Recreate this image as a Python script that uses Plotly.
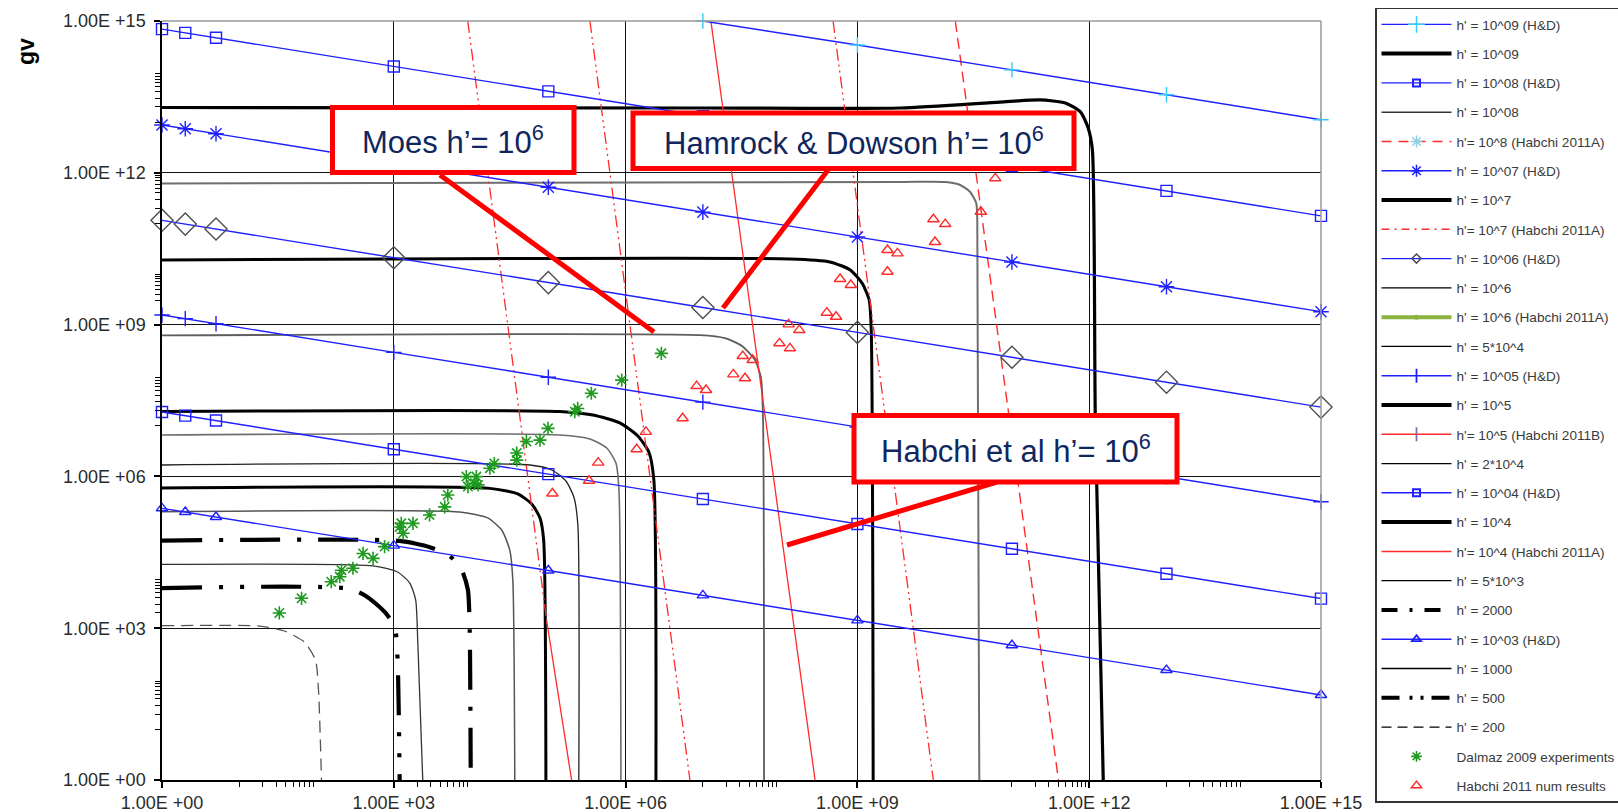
import plotly.graph_objects as go

# ---------------- axis ticks ----------------
major_vals = [1e0, 1e3, 1e6, 1e9, 1e12, 1e15]
major_text = ["1.00E +00", "1.00E +03", "1.00E +06", "1.00E +09", "1.00E +12", "1.00E +15"]
x_minor = ([n * 1e1 for n in range(1, 10)] + [n * 1e3 for n in range(2, 10)] +
           [n * 1e7 for n in range(1, 10)] + [n * 1e11 for n in range(1, 10)] +
           [n * 1e13 for n in range(1, 10)])
y_minor = ([n * 1e1 for n in range(1, 10)] + [n * 1e3 for n in range(2, 10)] +
           [n * 1e7 for n in range(1, 10)] + [n * 1e9 for n in range(3, 11)] +
           [n * 1e11 for n in range(1, 10)] + [n * 1e13 for n in range(1, 10)])

# ---------------- Hamrock & Dowson lines (gE at the markers) ----------------
hd_ge = [1, 2, 5, 1e3, 1e5, 1e7, 1e9, 1e11, 1e13, 1e15]
hd_1e9_ge = [1e7, 1e9, 1e11, 1e13, 1e15]
hd_1e9_gv = [1.0e15, 3.36e14, 1.08e14, 3.48e13, 1.12e13]
hd_1e8_gv = [6.92e14, 5.83e14, 4.66e14, 1.26e14, 4.07e13, 1.31e13, 4.23e12, 1.36e12, 4.39e11, 1.41e11]
hd_1e7_gv = [8.81e12, 7.43e12, 5.93e12, 1.61e12, 5.19e11, 1.67e11, 5.38e10, 1.73e10, 5.58e9, 1.80e9]
hd_1e6_gv = [1.15e11, 9.68e10, 7.73e10, 2.10e10, 6.76e9, 2.18e9, 7.01e8, 2.26e8, 7.28e7, 2.34e7]
hd_1e5_gv = [1.55e9, 1.31e9, 1.04e9, 2.83e8, 9.12e7, 2.94e7, 9.46e6, 3.05e6, 9.82e5, 3.16e5]
hd_1e4_gv = [1.88e7, 1.59e7, 1.27e7, 3.44e6, 1.11e6, 3.57e5, 1.15e5, 3.71e4, 1.19e4, 3.85e3]
hd_1e3_gv = [2.34e5, 1.98e5, 1.58e5, 4.29e4, 1.38e4, 4.45e3, 1.43e3, 461, 149, 47.9]

# ---------------- Moes contours ----------------
moes_1e9_ge = [1, 9.2e6, 3.6e9, 7.0e10, 2.3e11, 4.9e11, 7.7e11, 9.7e11, 1.10e12, 1.20e12, 1.52e12]
moes_1e9_gv = [1.95e13, 1.91e13, 1.91e13, 2.5e13, 2.75e13, 2.4e13, 1.6e13, 7.7e12, 2.8e12, 1.3e7, 1]
moes_1e8_ge = [1, 3.6e9, 1.37e10, 2.14e10, 2.88e10, 3.45e10, 3.56e10, 3.78e10]
moes_1e8_gv = [6.15e11, 6.58e11, 6.58e11, 5.74e11, 4.18e11, 2.53e11, 1.17e11, 1]
moes_1e7_ge = [1, 1.34e8, 4.4e8, 8.1e8, 1.15e9, 1.42e9, 1.51e9, 1.60e9]
moes_1e7_gv = [1.89e10, 1.98e10, 1.73e10, 1.20e10, 6.6e9, 3.06e9, 7.8e8, 1]
moes_1e6_ge = [1, 9.2e6, 1.93e7, 3.21e7, 4.73e7, 5.66e7, 6.01e7, 6.19e7]
moes_1e6_gv = [6.1e8, 6.2e8, 5.4e8, 3.78e8, 2.0e8, 8.8e7, 1.30e7, 1]
moes_1e5_ge = [1, 1.41e5, 3.77e5, 8.4e5, 1.44e6, 2.0e6, 2.32e6, 2.47e6]
moes_1e5_gv = [1.92e7, 1.92e7, 1.63e7, 1.14e7, 6.3e6, 3.03e6, 8.5e5, 1]
moes_5e4_ge = [1, 1.41e5, 3.45e5, 5.7e5, 7.5e5, 8.2e5, 8.7e5]
moes_5e4_gv = [6.6e6, 6.6e6, 5.5e6, 3.64e6, 1.84e6, 5.4e5, 1]
moes_2e4_ge = [1, 5.75e4, 1.11e5, 1.69e5, 2.14e5, 2.41e5, 2.48e5]
moes_2e4_gv = [1.68e6, 1.68e6, 1.34e6, 8.1e5, 3.92e5, 1.10e5, 1]
moes_1e4_ge = [1, 1.75e4, 4.03e4, 6.1e4, 7.8e4, 8.7e4, 9.3e4]
moes_1e4_gv = [5.9e5, 5.8e5, 4.5e5, 2.85e5, 1.51e5, 5.5e4, 1]
moes_5e3_ge = [1, 7.1e3, 1.64e4, 2.49e4, 3.17e4, 3.47e4, 3.68e4]
moes_5e3_gv = [2.0e5, 1.98e5, 1.51e5, 8.7e4, 3.5e4, 9.0e3, 1]
moes_2000_ge = [1, 1.19e3, 2.92e3, 5.3e3, 7.6e3, 9.1e3, 9.6e3, 9.9e3]
moes_2000_gv = [5.4e4, 5.3e4, 4.0e4, 2.67e4, 1.41e4, 5.7e3, 920, 1]
moes_1000_ge = [1, 566, 1.12e3, 1.61e3, 1.92e3, 2.04e3, 2.37e3]
moes_1000_gv = [1.82e4, 1.69e4, 1.29e4, 7.8e3, 3.6e3, 585, 1]
moes_500_ge = [1, 269, 459, 762, 1.03e3, 1.12e3, 1.19e3]
moes_500_gv = [6.2e3, 6.0e3, 4.1e3, 2.1e3, 1.06e3, 235, 1]
moes_200_ge = [1, 18.3, 38.6, 70, 97, 106, 116]
moes_200_gv = [1.12e3, 1.10e3, 880, 530, 235, 60, 1]

# ---------------- Habchi contours ----------------
hab_dashdot_ge = [9.06e3, 9.5e4, None, 3.45e5, 6.8e6, None, 4.84e8, 9.6e9]
hab_dashdot_gv = [1e15, 1.45e3, None, 1e15, 1, None, 1e15, 1]
hab_dash_ge = [1.85e10, 4.0e11]
hab_dash_gv = [1e15, 1]
hab_solid_a_ge = [9.5e4, 2.0e5]
hab_solid_a_gv = [1.45e3, 1]
hab_solid_b_ge = [1.27e7, 2.83e8]
hab_solid_b_gv = [1e15, 1]

# ---------------- point data ----------------
dalmaz_ge = [33, 64, 155, 210, 200, 296, 400, 540, 760, 1250, 1320, 1770, 2900, 4560, 5000,
             9100, 8700, 1.23e4, 1.17e4, 1.75e4, 2.0e4, 3.9e4, 3.9e4, 5.2e4, 7.8e4, 9.9e4,
             2.2e5, 2.4e5, 3.6e5, 8.9e5, 2.9e6, 1190, 1.12e4]
dalmaz_gv = [2.0e3, 3.9e3, 8.3e3, 1.4e4, 1.04e4, 1.53e4, 3.0e4, 2.4e4, 4.1e4, 1.18e5, 7.5e4,
             1.18e5, 1.73e5, 2.5e5, 4.3e5, 6.3e5, 9.9e5, 6.8e5, 9.9e5, 1.45e6, 1.8e6, 2.9e6,
             2.1e6, 4.9e6, 5.2e6, 8.9e6, 1.9e7, 2.2e7, 4.4e7, 8.0e7, 2.7e8, 1.0e5, 7.3e5]
habchi_ge = [6.08e10, 9.64e9, 1.37e10, 1.01e10, 3.96e10, 2.45e9, 3.30e9, 2.45e9, 5.97e8, 8.22e8,
             4.02e8, 5.30e8, 1.29e8, 1.77e8, 9.8e7, 1.34e8, 3.28e7, 4.42e7, 2.48e7, 3.51e7,
             8.3e6, 1.10e7, 5.47e6, 1.83e6, 1.39e6, 4.42e5, 3.37e5, 1.13e5]
habchi_gv = [7.78e11, 1.21e11, 9.7e10, 4.3e10, 1.70e11, 2.98e10, 2.56e10, 1.11e10, 7.96e9, 6.07e9,
             1.72e9, 1.43e9, 1.01e9, 7.8e8, 4.27e8, 3.40e8, 2.39e8, 2.00e8, 1.04e8, 8.7e7,
             6.1e7, 5.1e7, 1.41e7, 7.6e6, 3.44e6, 1.87e6, 8.2e5, 4.6e5]

BLUE = "#1f1fff"
RED = "#ff2a2a"
GREEN = "#1e9a1e"
DGRAY = "#4d4d4d"
FONT = "Liberation Sans, Arial, sans-serif"

fig = go.Figure()


def curve(x, y, color, width, dash="solid", shape="spline"):
    fig.add_trace(go.Scatter(x=x, y=y, mode="lines", showlegend=False, hoverinfo="skip",
                             line=dict(color=color, width=width, dash=dash, shape=shape,
                                       smoothing=0.6 if shape == "spline" else None)))


# Moes contours
curve(moes_1e9_ge, moes_1e9_gv, "black", 3.2)
curve(moes_1e8_ge, moes_1e8_gv, "#6e6e6e", 2.0)
curve(moes_1e7_ge, moes_1e7_gv, "black", 3.0)
curve(moes_1e6_ge, moes_1e6_gv, "#5e5e5e", 1.8)
curve(moes_1e5_ge, moes_1e5_gv, "black", 3.0)
curve(moes_5e4_ge, moes_5e4_gv, "#6e6e6e", 1.6)
curve(moes_2e4_ge, moes_2e4_gv, "#222222", 1.3)
curve(moes_1e4_ge, moes_1e4_gv, "black", 3.0)
curve(moes_5e3_ge, moes_5e3_gv, "#555555", 1.5)
curve(moes_2000_ge, moes_2000_gv, "black", 4.2, dash="40px,17px,4px,17px")
curve(moes_1000_ge, moes_1000_gv, "#333333", 1.3)
curve(moes_500_ge, moes_500_gv, "black", 4.2, dash="40px,17px,4px,17px,4px,17px")
curve(moes_200_ge, moes_200_gv, "#555555", 1.3, dash="12px,7px")

# Habchi contours
curve(hab_dashdot_ge, hab_dashdot_gv, RED, 1.3, dash="12px,4px,2px,4px,2px,4px", shape="linear")
curve(hab_dash_ge, hab_dash_gv, RED, 1.4, dash="11px,6px", shape="linear")
curve(hab_solid_a_ge, hab_solid_a_gv, RED, 1.3, shape="linear")
curve(hab_solid_b_ge, hab_solid_b_gv, RED, 1.3, shape="linear")


def hd(x, y, symbol, size, mcolor):
    fig.add_trace(go.Scatter(x=x, y=y, mode="lines+markers", showlegend=False, hoverinfo="skip",
                             cliponaxis=False,
                             line=dict(color=BLUE, width=1.4),
                             marker=dict(symbol=symbol, size=size, color=mcolor,
                                         line=dict(color=mcolor, width=1.4))))


hd(hd_1e9_ge, hd_1e9_gv, "cross-thin-open", 11, "#33ccff")
hd(hd_ge, hd_1e8_gv, "square-open", 11, BLUE)
hd(hd_ge, hd_1e7_gv, "asterisk-open", 13, BLUE)
hd(hd_ge, hd_1e6_gv, "diamond-open", 17, DGRAY)
hd(hd_ge, hd_1e5_gv, "cross-thin-open", 11, BLUE)
hd(hd_ge, hd_1e4_gv, "square-open", 11, BLUE)
hd(hd_ge, hd_1e3_gv, "triangle-up-open", 10, BLUE)

fig.add_trace(go.Scatter(x=dalmaz_ge, y=dalmaz_gv, mode="markers", showlegend=False, hoverinfo="skip",
                         marker=dict(symbol="asterisk-open", size=11, color=GREEN,
                                     line=dict(color=GREEN, width=1.6))))
fig.add_trace(go.Scatter(x=habchi_ge, y=habchi_gv, mode="markers", showlegend=False, hoverinfo="skip",
                         marker=dict(symbol="triangle-up-open", size=10, color=RED,
                                     line=dict(color=RED, width=1.4))))

# ---------------- legend entries ----------------
legend_items = [
    ("h' = 10^09 (H&D)", dict(color=BLUE, width=1.4), dict(symbol="cross-thin-open", size=12, color="#33ccff", line=dict(color="#33ccff", width=1.5))),
    ("h' = 10^09", dict(color="black", width=4), None),
    ("h' = 10^08 (H&D)", dict(color=BLUE, width=1.4), dict(symbol="square-open", size=7, color=BLUE, line=dict(color=BLUE, width=2))),
    ("h' = 10^08", dict(color="#333333", width=1.6), None),
    ("h'= 10^8 (Habchi 2011A)", dict(color=RED, width=1.5, dash="10px,7px"), dict(symbol="asterisk-open", size=10, color="#8fd0e0", line=dict(color="#8fd0e0", width=1.5))),
    ("h' = 10^07 (H&D)", dict(color=BLUE, width=1.4), dict(symbol="asterisk-open", size=10, color=BLUE, line=dict(color=BLUE, width=1.5))),
    ("h' = 10^7", dict(color="black", width=4), None),
    ("h'= 10^7 (Habchi 2011A)", dict(color=RED, width=1.4, dash="8px,5px,2px,5px"), None),
    ("h' = 10^06 (H&D)", dict(color=BLUE, width=1.4), dict(symbol="diamond-open", size=7, color=DGRAY, line=dict(color=DGRAY, width=1.5))),
    ("h' = 10^6", dict(color="black", width=1.3), None),
    ("h' = 10^6 (Habchi 2011A)", dict(color="#8db33f", width=4), dict(symbol="circle", size=5, color="#8db33f")),
    ("h' = 5*10^4", dict(color="black", width=1.3), None),
    ("h' = 10^05 (H&D)", dict(color=BLUE, width=1.4), dict(symbol="line-ns-open", size=10, color=BLUE, line=dict(color=BLUE, width=1.8))),
    ("h' = 10^5", dict(color="black", width=4), None),
    ("h'= 10^5 (Habchi 2011B)", dict(color=RED, width=1.5), dict(symbol="line-ns-open", size=10, color="#8a6aa8", line=dict(color="#8a6aa8", width=1.8))),
    ("h' = 2*10^4", dict(color="black", width=1.3), None),
    ("h' = 10^04 (H&D)", dict(color=BLUE, width=1.4), dict(symbol="square-open", size=7, color=BLUE, line=dict(color=BLUE, width=2))),
    ("h' = 10^4", dict(color="black", width=4), None),
    ("h'= 10^4 (Habchi 2011A)", dict(color=RED, width=1.5), None),
    ("h' = 5*10^3", dict(color="black", width=1.3), None),
    ("h' = 2000", dict(color="black", width=4, dash="16px,12px,3px,12px"), None),
    ("h' = 10^03 (H&D)", dict(color=BLUE, width=1.4), dict(symbol="triangle-up-open", size=8, color=BLUE, line=dict(color=BLUE, width=1.8))),
    ("h' = 1000", dict(color="black", width=1.3), None),
    ("h' = 500", dict(color="black", width=4, dash="18px,10px,3px,8px,3px,8px"), None),
    ("h' = 200", dict(color="black", width=1.3, dash="10px,6px"), None),
    ("Dalmaz 2009 experiments", None, dict(symbol="asterisk-open", size=9, color=GREEN, line=dict(color=GREEN, width=1.6))),
    ("Habchi 2011 num results", None, dict(symbol="triangle-up-open", size=9, color=RED, line=dict(color=RED, width=1.5))),
]
for i, (name, line, marker) in enumerate(legend_items):
    if line is None:
        mode = "markers"
    elif marker is None:
        mode = "lines"
    else:
        mode = "lines+markers"
    kw = dict(x=[None], y=[None], mode=mode, name=name, legendgroup="g%d" % i,
              legendrank=i + 1, hoverinfo="skip")
    if line is not None:
        kw["line"] = line
    if marker is not None:
        kw["marker"] = marker
    fig.add_trace(go.Scatter(**kw))

# ---------------- layout ----------------
L, R, T, B = 162, 1321, 21, 780


def px(x):
    return (x - L) / (R - L)


def py(y):
    return (B - y) / (B - T)


axis_common = dict(
    type="log", tickvals=major_vals, ticktext=major_text, ticks="outside", ticklen=6,
    tickwidth=1.5, tickcolor="black", showline=True, linecolor="black", linewidth=1.5,
    showgrid=True, gridcolor="#111111", gridwidth=1.4, zeroline=False,
    tickfont=dict(family=FONT, size=18, color="#2b2b2b"),
)
fig.update_xaxes(range=[0, 15], **axis_common, ticklabelstandoff=0,
                 minor=dict(tickmode="array", tickvals=x_minor, ticks="outside", ticklen=5,
                            tickwidth=1, tickcolor="black", showgrid=False))
fig.update_yaxes(range=[0, 15], **axis_common, ticklabelstandoff=5,
                 minor=dict(tickmode="array", tickvals=y_minor, ticks="outside", ticklen=5,
                            tickwidth=1, tickcolor="black", showgrid=False))

shapes = [
    dict(type="line", xref="paper", yref="paper", x0=0, x1=1, y0=1, y1=1,
         line=dict(color="#9a9a9a", width=1.5), layer="above"),
    dict(type="line", xref="paper", yref="paper", x0=1, x1=1, y0=0, y1=1,
         line=dict(color="#9a9a9a", width=1.5), layer="above"),
]
# callout pointers
for (x0, y0, x1, y1) in [(440, 175, 654, 332), (828, 170, 723, 308), (997, 482, 787, 545)]:
    shapes.append(dict(type="line", xref="paper", yref="paper", x0=px(x0), y0=py(y0),
                       x1=px(x1), y1=py(y1), line=dict(color="#ff0000", width=5), layer="above"))
# callout boxes
boxes = [(332.5, 107.5, 574, 172.5), (633, 113, 1074, 168.5), (854, 415.5, 1177, 482)]
for (x0, y0, x1, y1) in boxes:
    shapes.append(dict(type="rect", xref="paper", yref="paper", x0=px(x0), y0=py(y0),
                       x1=px(x1), y1=py(y1), fillcolor="white",
                       line=dict(color="#ff0000", width=5), layer="above"))

callout_texts = ["Moes h’= 10<sup>6</sup>", "Hamrock &amp; Dowson h’= 10<sup>6</sup>",
                 "Habchi et al h’= 10<sup>6</sup>"]
annotations = []
for (x0, y0, x1, y1), txt in zip(boxes, callout_texts):
    annotations.append(dict(xref="paper", yref="paper", x=px((x0 + x1) / 2), y=py((y0 + y1) / 2),
                            text=txt, showarrow=False, xanchor="center", yanchor="middle",
                            font=dict(family=FONT, size=31, color="#10275e")))
annotations.append(dict(xref="paper", yref="paper", x=px(26), y=py(52), text="<b>gv</b>",
                        textangle=-90, showarrow=False, xanchor="center", yanchor="middle",
                        font=dict(family=FONT, size=23, color="black")))

fig.update_layout(
    width=1618, height=812, autosize=False,
    margin=dict(l=L, r=1618 - R, t=T, b=812 - B, autoexpand=False),
    paper_bgcolor="white", plot_bgcolor="white",
    shapes=shapes, annotations=annotations,
    showlegend=True,
    legend=dict(x=px(1375), xanchor="left", y=py(7.5), yanchor="top",
                bordercolor="#333333", borderwidth=1.5, bgcolor="white",
                font=dict(family=FONT, size=13.6, color="#3a3a3a"),
                itemwidth=70, tracegroupgap=8.6, traceorder="grouped", itemclick=False,
                itemdoubleclick=False, maxheight=808),
)

fig.write_html("out.html", config={"displayModeBar": False})
